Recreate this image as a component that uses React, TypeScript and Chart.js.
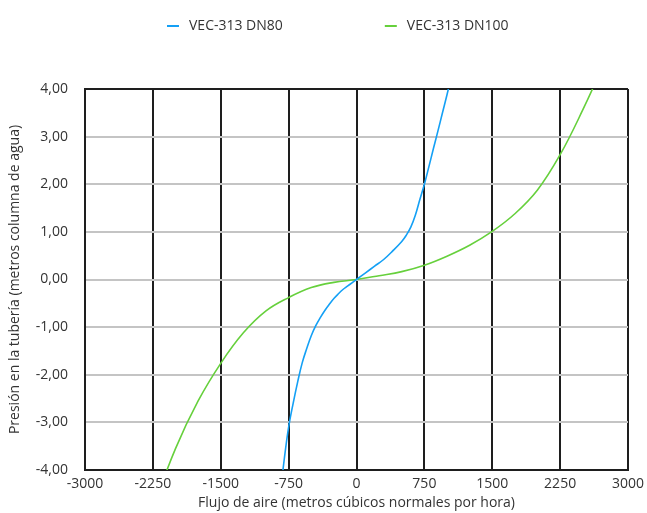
import { useEffect, useRef } from 'react';
import { Chart, registerables } from 'chart.js';

Chart.register(...registerables);

const FONT = '"Open Sans", "Noto Sans", sans-serif';
const TEXT_COLOR = '#333333';

const seriesLabels = ['VEC-313 DN80', 'VEC-313 DN100'];
const seriesColors = ['#14a0f5', '#66d03c'];

const dn80Flow = [-850, -800, -750, -700, -650, -600, -550, -500, -450, -400, -350, -300, -250, -200, -150, -100, -50, 0,
  100, 200, 300, 400, 500, 550, 600, 650, 700, 750, 800, 850, 900, 950, 1000, 1050];
const dn80Pressure = [-4.6, -3.8, -3.1, -2.6, -2.15, -1.75, -1.45, -1.18, -0.97, -0.8, -0.65, -0.52, -0.4, -0.3, -0.21, -0.14, -0.07, 0,
  0.14, 0.28, 0.42, 0.6, 0.8, 0.93, 1.1, 1.35, 1.68, 2.0, 2.37, 2.75, 3.12, 3.5, 3.88, 4.28];

const dn100Flow = [-2250, -2000, -1750, -1500, -1250, -1000, -750, -500, -250, 0,
  250, 500, 750, 1000, 1250, 1500, 1750, 2000, 2250, 2500, 2750];
const dn100Pressure = [-4.8, -3.55, -2.55, -1.76, -1.12, -0.66, -0.38, -0.17, -0.06, 0,
  0.08, 0.165, 0.3, 0.49, 0.72, 1.01, 1.38, 1.88, 2.62, 3.56, 4.6];

const xTicks = [-3000, -2250, -1500, -750, 0, 750, 1500, 2250, 3000];
const yTicks = [-4, -3, -2, -1, 0, 1, 2, 3, 4];

const xTitle = 'Flujo de aire (metros cúbicos normales por hora)';
const yTitle = 'Presión en la tubería (metros columna de agua)';

const toPoints = (xs: number[], ys: number[]) => xs.map((x, i) => ({ x, y: ys[i] }));

const legendPlugin = {
  id: 'topLegend',
  afterDraw(chart: any) {
    const ctx = chart.ctx as CanvasRenderingContext2D;
    ctx.save();
    ctx.font = `14px ${FONT}`;
    const items = chart.data.datasets.map((d: any) => ({
      label: d.label as string,
      color: d.borderColor as string,
      w: ctx.measureText(d.label).width,
    }));
    const lineW = 12;
    const gap = 10;
    const between = 102;
    const total = items.reduce((a: number, it: any) => a + lineW + gap + it.w, 0) + between * (items.length - 1);
    let x = Math.round(338 - total / 2);
    const y = 26;
    items.forEach((it: any) => {
      ctx.strokeStyle = it.color;
      ctx.lineWidth = 2;
      ctx.beginPath();
      ctx.moveTo(x, y);
      ctx.lineTo(x + lineW, y);
      ctx.stroke();
      ctx.fillStyle = TEXT_COLOR;
      ctx.textBaseline = 'middle';
      ctx.textAlign = 'left';
      ctx.fillText(it.label, x + lineW + gap, y);
      x += lineW + gap + it.w + between;
    });
    ctx.restore();
  },
};

export default function App() {
  const canvasRef = useRef<HTMLCanvasElement | null>(null);

  useEffect(() => {
    document.body.style.margin = '0';
    const canvas = canvasRef.current;
    if (!canvas) return;
    const chart = new Chart(canvas, {
      type: 'line',
      data: {
        datasets: [
          {
            label: seriesLabels[0],
            data: toPoints(dn80Flow, dn80Pressure),
            borderColor: seriesColors[0],
            backgroundColor: seriesColors[0],
            borderWidth: 1.6,
            pointRadius: 0,
            tension: 0.4,
            fill: false,
          },
          {
            label: seriesLabels[1],
            data: toPoints(dn100Flow, dn100Pressure),
            borderColor: seriesColors[1],
            backgroundColor: seriesColors[1],
            borderWidth: 1.6,
            pointRadius: 0,
            tension: 0.4,
            fill: false,
          },
        ],
      },
      options: {
        animation: false,
        responsive: true,
        maintainAspectRatio: false,
        layout: { padding: { top: 89, right: 19, left: 0, bottom: 0 } },
        plugins: {
          legend: { display: false },
          tooltip: { enabled: false },
        },
        scales: {
          x: {
            type: 'linear',
            min: -3000,
            max: 3000,
            afterBuildTicks: (s: any) => {
              s.ticks = xTicks.map((v) => ({ value: v }));
            },
            afterFit: (s: any) => {
              s.height = 43;
              s.paddingRight = 0;
              s.paddingLeft = 0;
            },
            grid: {
              color: '#1e1e1e',
              lineWidth: 2,
              drawTicks: false,
            },
            border: { display: true, color: '#1e1e1e', width: 2 },
            ticks: {
              padding: 6,
              color: TEXT_COLOR,
              font: { family: FONT, size: 14 },
              maxRotation: 0,
              autoSkip: false,
              callback: (v: any) => String(v),
            },
            title: {
              display: true,
              text: xTitle,
              color: TEXT_COLOR,
              font: { family: FONT, size: 14 },
              padding: { top: 0, bottom: 2 },
            },
          },
          y: {
            type: 'linear',
            min: -4,
            max: 4,
            afterBuildTicks: (s: any) => {
              s.ticks = yTicks.map((v) => ({ value: v }));
            },
            afterFit: (s: any) => {
              s.width = 85;
              s.paddingTop = 0;
              s.paddingBottom = 0;
            },
            grid: {
              color: (c: any) => (c.tick && (c.tick.value === 4 || c.tick.value === -4) ? '#1e1e1e' : '#c4c4c4'),
              lineWidth: 2,
              drawTicks: false,
            },
            border: { display: true, color: '#1e1e1e', width: 2 },
            ticks: {
              padding: 17,
              color: TEXT_COLOR,
              font: { family: FONT, size: 14 },
              autoSkip: false,
              callback: (v: any) => Number(v).toFixed(2).replace('.', ','),
            },
            title: {
              display: true,
              text: yTitle,
              color: TEXT_COLOR,
              font: { family: FONT, size: 14 },
              padding: { top: 7, bottom: 0 },
            },
          },
        },
      },
      plugins: [legendPlugin],
    });
    return () => chart.destroy();
  }, []);

  return (
    <div style={{ position: 'relative', width: 647, height: 513 }}>
      <canvas ref={canvasRef} />
    </div>
  );
}
